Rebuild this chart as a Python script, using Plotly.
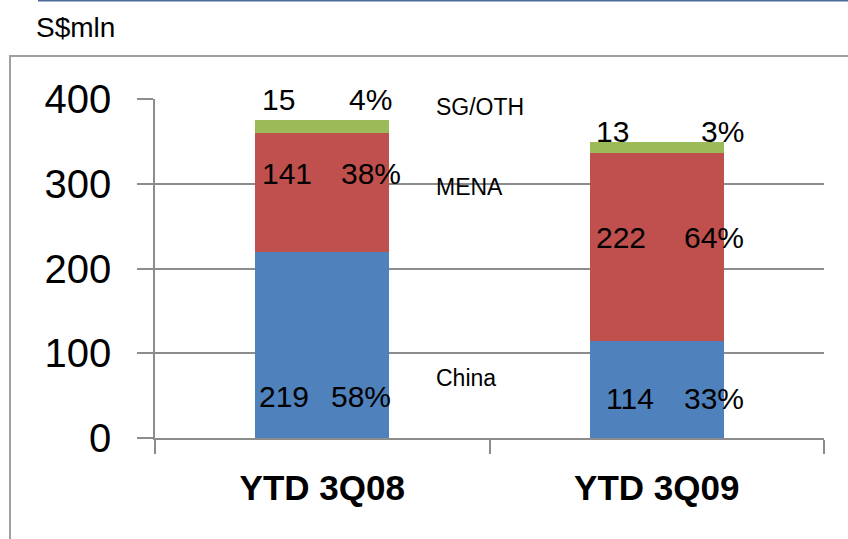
import plotly.graph_objects as go

categories = ["YTD 3Q08", "YTD 3Q09"]
china = [219, 114]
mena = [141, 222]
sg_oth = [15, 13]
china_pct = ["58%", "33%"]
mena_pct = ["38%", "64%"]
sg_pct = ["4%", "3%"]
series_names = ["China", "MENA", "SG/OTH"]
y_ticks = [0, 100, 200, 300, 400]

colors = {"China": "#4F81BD", "MENA": "#C0504D", "SG/OTH": "#9BBB59"}
FONT = "Liberation Sans, Arial, sans-serif"

fig = go.Figure()
for name, vals in zip(series_names, [china, mena, sg_oth]):
    fig.add_trace(go.Bar(x=categories, y=vals, name=name, marker=dict(color=colors[name], line=dict(width=0)),
                         width=0.4, showlegend=False, hoverinfo="skip"))

# label vertical placements (data units) and horizontal offsets (px)
label_y = {
    "YTD 3Q08": {"China": 49, "MENA": 312.5, "SG/OTH": 400},
    "YTD 3Q09": {"China": 47, "MENA": 237, "SG/OTH": 362},
}
left_shift = {
    "YTD 3Q08": {"China": -64.5, "MENA": -61.5, "SG/OTH": -61.5},
    "YTD 3Q09": {"China": -52, "MENA": -62, "SG/OTH": -62},
}
right_shift = {
    "YTD 3Q08": {"China": 69.5, "MENA": 79.5, "SG/OTH": 70.5},
    "YTD 3Q09": {"China": 88, "MENA": 88, "SG/OTH": 88},
}

ann = []
for i, cat in enumerate(categories):
    for name, vals, pcts in zip(series_names, [china, mena, sg_oth], [china_pct, mena_pct, sg_pct]):
        ann.append(dict(x=cat, y=label_y[cat][name], text=str(vals[i]), showarrow=False,
                        xanchor="left", yanchor="middle", xshift=left_shift[cat][name], borderpad=0,
                        font=dict(family=FONT, size=30, color="black")))
        ann.append(dict(x=cat, y=label_y[cat][name], text=pcts[i], showarrow=False,
                        xanchor="right", yanchor="middle", xshift=right_shift[cat][name], borderpad=0,
                        font=dict(family=FONT, size=30, color="black")))

name_y = {"China": 70.5, "MENA": 296, "SG/OTH": 390.4}
for name in series_names:
    ann.append(dict(x=categories[0], y=name_y[name], text=name, showarrow=False,
                    xanchor="left", yanchor="middle", xshift=112.5, borderpad=0,
                    font=dict(family=FONT, size=23, color="black")))

# unit label
ann.append(dict(xref="paper", yref="paper", x=(35 - 155) / 669, y=(437.7 - 28) / 338.7, text="S$mln",
                showarrow=False, xanchor="left", yanchor="middle", borderpad=0,
                font=dict(family=FONT, size=28, color="black")))

shapes = [
    dict(type="rect", xref="paper", yref="paper", x0=(10 - 155) / 669, x1=(870 - 155) / 669,
         y0=(437.7 - 580) / 338.7, y1=(437.7 - 56) / 338.7, line=dict(color="#A0A0A0", width=2),
         fillcolor="rgba(0,0,0,0)", layer="below"),
    dict(type="line", xref="paper", yref="paper", x0=(38 - 155) / 669, x1=(870 - 155) / 669,
         y0=(437.7 - 0.5) / 338.7, y1=(437.7 - 0.5) / 338.7, line=dict(color="#4A6D9E", width=2)),
]

fig.update_layout(
    width=848, height=539,
    margin=dict(l=155, r=24, t=99, b=101.3),
    barmode="stack",
    plot_bgcolor="white", paper_bgcolor="white",
    annotations=ann, shapes=shapes,
    xaxis=dict(type="category", tickson="boundaries", ticks="outside", ticklen=14, tickcolor="#8C8C8C",
               tickwidth=1.5, showline=True, linecolor="#8C8C8C", linewidth=1.5, showgrid=False,
               tickfont=dict(family=FONT, size=35, color="black", weight="bold"), ticklabelstandoff=18,
               fixedrange=True),
    yaxis=dict(range=[0, 400], tickvals=y_ticks, ticks="outside", ticklen=16, tickcolor="#8C8C8C",
               tickwidth=1.5, showline=True, linecolor="#8C8C8C", linewidth=1.5, showgrid=True,
               gridcolor="#8C8C8C", gridwidth=1.5, zeroline=False,
               tickfont=dict(family=FONT, size=40, color="black"), ticklabelstandoff=18, fixedrange=True),
)

fig.write_html("out.html")
